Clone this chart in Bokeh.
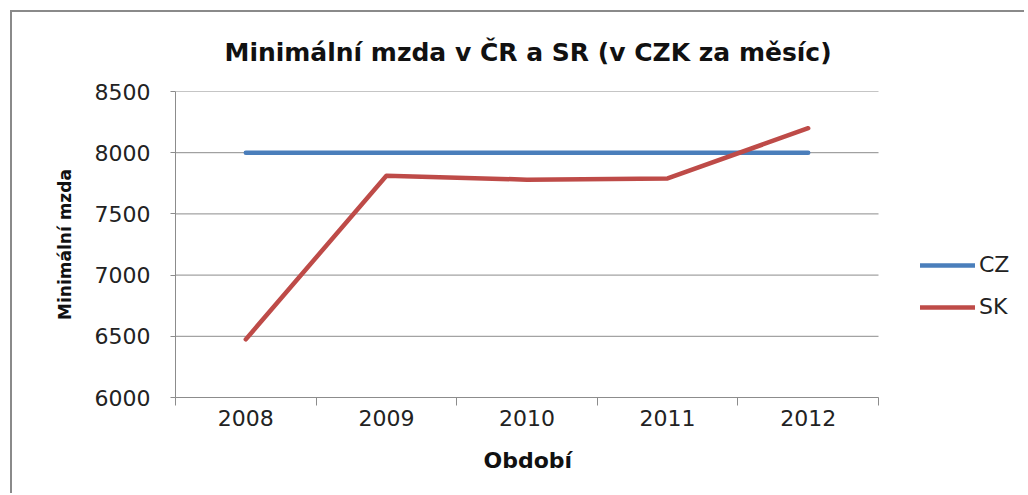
from bokeh.plotting import figure
from bokeh.models import FixedTicker, Range1d, Legend, LegendItem, Title
from bokeh.embed import file_html
from bokeh.resources import INLINE

years = ["2008", "2009", "2010", "2011", "2012"]
cz = [8000, 8000, 8000, 8000, 8000]
sk = [6475, 7812, 7780, 7790, 8200]
y_ticks = [6000, 6500, 7000, 7500, 8000, 8500]

xs = list(range(1, len(years) + 1))
n = len(years)

W, H = 1014, 483
LEFT, TOP, BOTTOM = 163, 79, 98
AREA_W = 703  # pixel width of the category area
frame_w = W - LEFT
x_end = 0.5 + n * frame_w / AREA_W

p = figure(width=W, height=H, output_backend="svg", toolbar_location=None,
           x_range=Range1d(0.5, x_end), y_range=Range1d(6000, 8500),
           min_border_left=LEFT, min_border_right=0, min_border_top=TOP, min_border_bottom=BOTTOM)
p.styles = {"border-left": "2px solid #8a8a8a", "border-top": "2px solid #8a8a8a",
            "margin-left": "10px", "margin-top": "10px"}

p.title.text = "Minimální mzda v ČR a SR (v CZK za měsíc)"
p.title.align = "left"
p.title.offset = 49
p.title.text_font = "DejaVu Sans"
p.title.text_font_size = "25px"
p.title.text_font_style = "bold"
p.title.text_color = "#111111"
p.title.vertical_align = "top"
p.title.standoff = 46

p.outline_line_color = None
p.xgrid.grid_line_color = None
p.ygrid.grid_line_color = None

# horizontal gridlines limited to the category area
p.segment(x0=[0.5] * len(y_ticks), y0=y_ticks, x1=[n + 0.5] * len(y_ticks), y1=y_ticks,
          line_color="#8c8c8c", line_width=1)

p.yaxis.ticker = FixedTicker(ticks=y_ticks)
p.yaxis.axis_line_color = "#8c8c8c"
p.yaxis.major_tick_line_color = "#8c8c8c"
p.yaxis.major_tick_out = 5
p.yaxis.major_tick_in = 0
p.yaxis.minor_tick_line_color = None
p.yaxis.major_label_text_font = "DejaVu Sans"
p.yaxis.major_label_text_font_size = "22px"
p.yaxis.major_label_text_color = "#222222"
p.yaxis.major_label_standoff = 20
p.yaxis.axis_label = "Minimální mzda"
p.yaxis.axis_label_text_font = "DejaVu Sans"
p.yaxis.axis_label_text_font_size = "17px"
p.yaxis.axis_label_text_font_style = "bold"
p.yaxis.axis_label_text_color = "#111111"
p.yaxis.axis_label_standoff = 17

p.xaxis.ticker = FixedTicker(ticks=xs, minor_ticks=[x - 0.5 for x in xs] + [xs[-1] + 0.5])
p.xaxis.bounds = (0.5, n + 0.5)
p.xaxis.major_label_overrides = {x: y for x, y in zip(xs, years)}
p.xaxis.axis_line_color = "#8c8c8c"
p.xaxis.major_tick_line_color = None
p.xaxis.major_tick_out = 0
p.xaxis.major_tick_in = 0
p.xaxis.minor_tick_line_color = "#8c8c8c"
p.xaxis.minor_tick_out = 8
p.xaxis.minor_tick_in = 0
p.xaxis.major_label_text_font = "DejaVu Sans"
p.xaxis.major_label_text_font_size = "22px"
p.xaxis.major_label_text_color = "#222222"
p.xaxis.major_label_standoff = 4

xlabel = Title(text="Období", align="left", offset=308, standoff=34,
               text_font="DejaVu Sans", text_font_size="22px", text_font_style="bold",
               text_color="#111111")
p.add_layout(xlabel, "below")

r_cz = p.line(xs, cz, line_color="#4A7EBB", line_width=4.5, line_cap="round")
r_sk = p.line(xs, sk, line_color="#BE4B48", line_width=4.5, line_cap="round", line_join="round")

legend = Legend(items=[LegendItem(label="CZ", renderers=[r_cz]), LegendItem(label="SK", renderers=[r_sk])],
                location=(745, 78), padding=0, margin=0, spacing=17,
                glyph_width=55, glyph_height=24, label_height=24, label_standoff=4,
                label_text_font="DejaVu Sans", label_text_font_size="22px", label_text_color="#222222",
                border_line_color=None, background_fill_alpha=0)
p.add_layout(legend)

open("out.html", "w").write(file_html(p, INLINE))
